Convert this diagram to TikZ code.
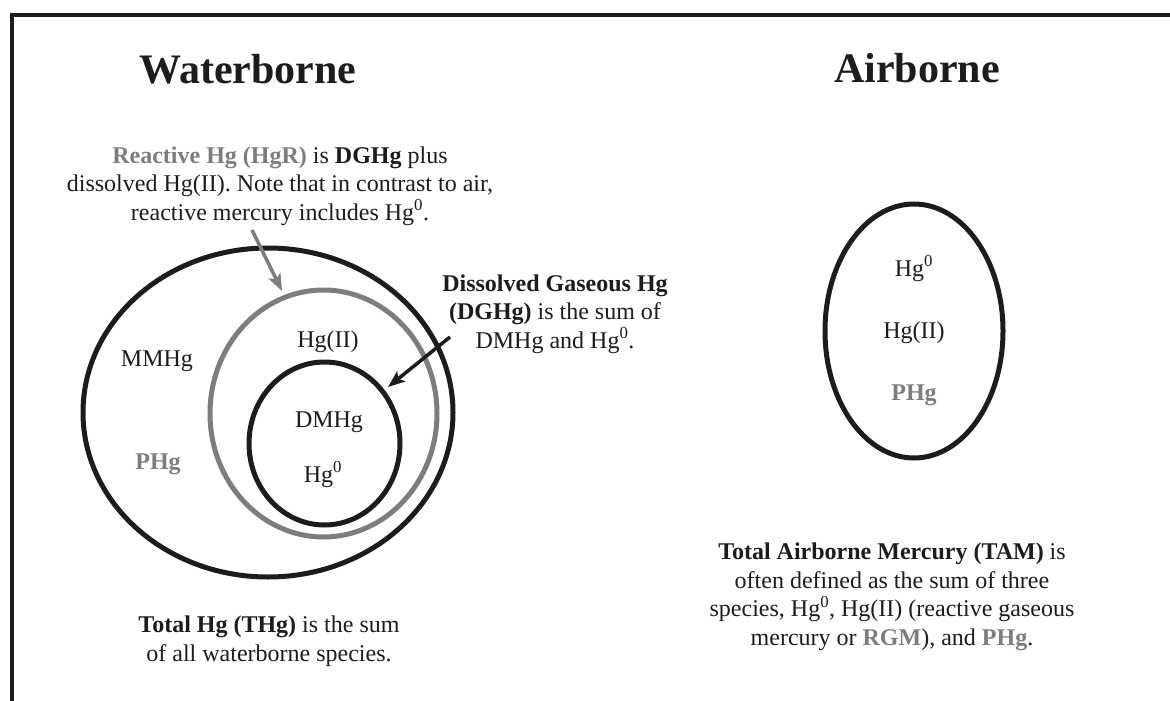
\documentclass[tikz,border=0pt]{standalone}
\usepackage{fontspec}
\setmainfont{Liberation Serif}
\usetikzlibrary{shapes.geometric,arrows.meta}
\definecolor{hggray}{RGB}{125,125,128}
\definecolor{ink}{RGB}{28,28,28}
\tikzset{
  lbl/.style={font=\fontsize{24}{28.5}\selectfont, text=ink, inner sep=0pt, align=center, anchor=base},
  ttl/.style={font=\fontsize{42}{48}\selectfont\bfseries, text=ink, inner sep=0pt, anchor=base},
  ring/.style={draw=ink, line width=5pt, ellipse, inner sep=0pt},
  grayring/.style={ring, draw=hggray},
  arr/.style={line width=3.5pt, -{Stealth[length=17pt,width=13pt,inset=4pt]}},
  frame/.style={line width=3.5pt, draw=ink},
}
\newcommand{\hgz}{Hg\textsuperscript{0}}
\newcommand{\gb}[1]{{\bfseries\color{hggray}#1}}
\begin{document}
\begin{tikzpicture}[x=1pt,y=-1pt]
\useasboundingbox (0,0) rectangle (1170,701);
% frame
\coordinate (fbl) at (12,705);
\coordinate (ftl) at (12,15);
\coordinate (ftr) at (1175,15);
\draw[frame] (fbl) -- (ftl) -- (ftr);

% titles
\node[ttl] (tw) at (248,83) {Waterborne};
\node[ttl] (ta) at (917,82) {Airborne};

% waterborne rings
\node[ring, minimum width=370pt, minimum height=329pt] (outer) at (268,412.5) {};
\node[grayring, minimum width=227pt, minimum height=247pt] (reac) at (323.5,413.5) {};
\node[ring, minimum width=151pt, minimum height=163pt] (inner) at (324.5,443.5) {};

% species
\node[lbl] (mmhg) at (157,366) {MMHg};
\node[lbl] (phgw) at (158,469) {\gb{PHg}};
\node[lbl] (hg2w) at (328,347) {Hg(II)};
\node[lbl] (dmhg) at (329,427) {DMHg};
\node[lbl] (hg0w) at (323,482) {\hgz};

% annotations (base anchor = last line's baseline)
\node[lbl] (rtext) at (280,220) {\gb{Reactive Hg (HgR)} is \textbf{DGHg} plus\\dissolved Hg(II). Note that in contrast to air,\\reactive mercury includes \hgz.};
\node[lbl] (dtext) at (555,348) {\textbf{Dissolved Gaseous Hg}\\\textbf{(DGHg)} is the sum of\\DMHg and \hgz.};
\node[lbl] (ttext) at (269,661) {\textbf{Total Hg (THg)} is the sum\\of all waterborne species.};

% arrows
\coordinate (ra) at (252,230);
\coordinate (rb) at (282,291);
\draw[arr, draw=hggray, fill=hggray] (ra) -- (rb);
\coordinate (da) at (450,337);
\coordinate (db) at (388,387);
\draw[arr, draw=ink, fill=ink] (da) -- (db);

% airborne
\node[ring, minimum width=178pt, minimum height=254pt] (air) at (914,331) {};
\node[lbl] (hg0a) at (914,276) {\hgz};
\node[lbl] (hg2a) at (914,338) {Hg(II)};
\node[lbl] (phga) at (914,400) {\gb{PHg}};
\node[lbl] (tam) at (892,645) {\textbf{Total Airborne Mercury (TAM)} is\\often defined as the sum of three\\species, \hgz, Hg(II) (reactive gaseous\\mercury or \gb{RGM}), and \gb{PHg}.};
\end{tikzpicture}
\end{document}
